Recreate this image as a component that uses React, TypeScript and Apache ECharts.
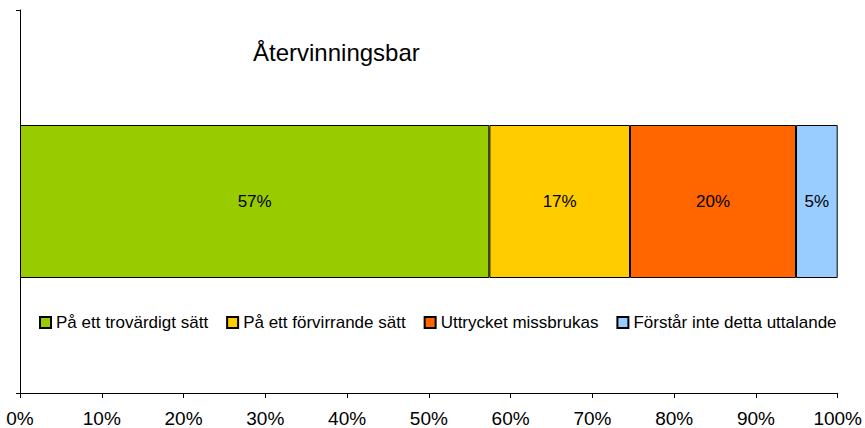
import React, { useEffect, useRef } from "react";
import * as echarts from "echarts";

const categories = ["Återvinningsbar"];
const seriesNames = [
  "På ett trovärdigt sätt",
  "På ett förvirrande sätt",
  "Uttrycket missbrukas",
  "Förstår inte detta uttalande",
];
const seriesValues = [57.4, 17.2, 20.3, 5.1];
const seriesColors = ["#99CC00", "#FFCC00", "#FF6600", "#99CCFF"];
const titleText = "Återvinningsbar";

const FONT = "'Liberation Sans', Arial, sans-serif";

export default function App() {
  const ref = useRef<HTMLDivElement>(null);
  useEffect(() => {
    if (!ref.current) return;
    const chart = echarts.init(ref.current, undefined, { renderer: "svg" });
    chart.setOption({
      animation: false,
      backgroundColor: "#fff",
      textStyle: { fontFamily: FONT, color: "#000" },
      title: {
        text: titleText,
        left: 248,
        top: 35,
        textStyle: { fontFamily: FONT, fontSize: 24, fontWeight: "normal", color: "#000" },
      },
      legend: {
        left: 34,
        top: 309,
        itemWidth: 11,
        itemHeight: 11,
        itemGap: 18,
        icon: "rect",
        textStyle: { fontFamily: FONT, fontSize: 17, color: "#000" },
        data: seriesNames,
      },
      grid: { left: 20, right: 27, top: 10, bottom: 34, containLabel: false },
      xAxis: {
        type: "value",
        min: 0,
        max: 100,
        interval: 10,
        axisLine: { show: true, lineStyle: { color: "#000", width: 1 } },
        axisTick: { show: true, length: 5, lineStyle: { color: "#000" } },
        splitLine: { show: false },
        axisLabel: {
          formatter: "{value}%",
          fontFamily: FONT,
          fontSize: 19,
          color: "#000",
          margin: 16,
        },
      },
      yAxis: {
        type: "category",
        data: categories,
        axisLine: { show: true, lineStyle: { color: "#000", width: 1 } },
        axisTick: { show: true, length: 4, alignWithLabel: false, lineStyle: { color: "#000" } },
        axisLabel: { show: false },
        splitLine: { show: false },
      },
      series: seriesNames.map((name, i) => ({
        name,
        type: "bar",
        stack: "total",
        barWidth: 153,
        data: [seriesValues[i]],
        itemStyle: { color: seriesColors[i], borderColor: "#000", borderWidth: 1 },
        label: {
          show: true,
          position: "inside",
          formatter: (p: any) => Math.round(p.value) + "%",
          fontFamily: FONT,
          fontSize: 17,
          color: "#000",
        },
      })),
    });
    return () => chart.dispose();
  }, []);
  return (
    <div
      ref={ref}
      style={{ position: "absolute", left: 0, top: 0, width: 865, height: 428 }}
    />
  );
}
